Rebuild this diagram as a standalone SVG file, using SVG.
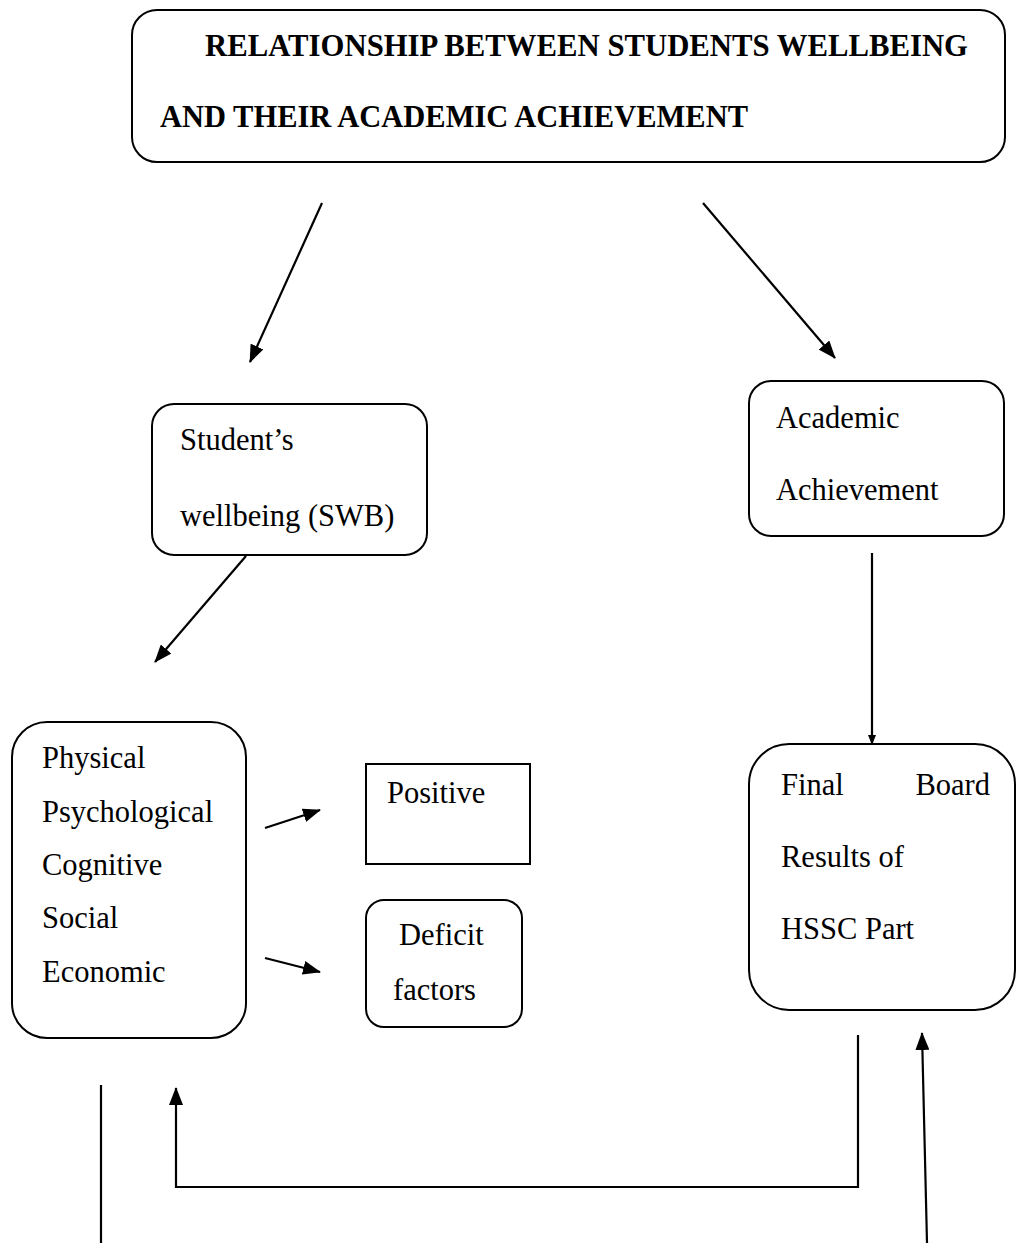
<svg xmlns="http://www.w3.org/2000/svg" width="1017" height="1243" viewBox="0 0 1017 1243">
<style>
.box{fill:none;stroke:#000;stroke-width:2}
.t{font-family:"Liberation Serif","Times New Roman",serif;font-size:30.5px;fill:#000}
.h{font-family:"Liberation Serif","Times New Roman",serif;font-size:32px;font-weight:bold;fill:#000}
.c{fill:none;stroke:#000;stroke-width:2.2}
</style>
<defs>
<marker id="a" markerWidth="10" markerHeight="8" refX="9" refY="4" orient="auto" markerUnits="userSpaceOnUse" viewBox="0 0 10 8">
<path d="M0,0 L10,4 L0,8 Z" fill="#000"/>
</marker>
<marker id="b" markerWidth="18" markerHeight="14" refX="17" refY="7" orient="auto" markerUnits="userSpaceOnUse" viewBox="0 0 18 14">
<path d="M0,0 L18,7 L0,14 Z" fill="#000"/>
</marker>
</defs>
<rect width="1017" height="1243" fill="#fff"/>
<g id="title">
<rect class="box" x="132" y="10" width="873" height="152" rx="25"/>
<text class="h" x="205" y="56" textLength="763" lengthAdjust="spacingAndGlyphs">RELATIONSHIP BETWEEN STUDENTS WELLBEING</text>
<text class="h" x="160" y="127" textLength="588" lengthAdjust="spacingAndGlyphs">AND THEIR ACADEMIC ACHIEVEMENT</text>
</g>
<g id="swb">
<rect class="box" x="152" y="404" width="275" height="151" rx="22"/>
<text class="t" x="180" y="450">Student’s</text>
<text class="t" x="180" y="526">wellbeing (SWB)</text>
</g>
<g id="academic">
<rect class="box" x="749" y="381" width="255" height="155" rx="22"/>
<text class="t" x="776" y="428">Academic</text>
<text class="t" x="776" y="500">Achievement</text>
</g>
<g id="factors">
<rect class="box" x="12" y="722" width="234" height="316" rx="35"/>
<text class="t" x="42" y="768">Physical</text>
<text class="t" x="42" y="822">Psychological</text>
<text class="t" x="42" y="875">Cognitive</text>
<text class="t" x="42" y="928">Social</text>
<text class="t" x="42" y="982">Economic</text>
</g>
<g id="positive">
<rect class="box" x="366" y="764" width="164" height="100"/>
<text class="t" x="387" y="803">Positive</text>
</g>
<g id="deficit">
<rect class="box" x="366" y="900" width="156" height="127" rx="18"/>
<text class="t" x="399" y="945">Deficit</text>
<text class="t" x="393" y="1000">factors</text>
</g>
<g id="final">
<rect class="box" x="749" y="744" width="266" height="266" rx="40"/>
<text class="t" x="781" y="795">Final</text>
<text class="t" x="990" y="795" text-anchor="end">Board</text>
<text class="t" x="781" y="867">Results of</text>
<text class="t" x="781" y="939">HSSC Part</text>
</g>
<g id="connectors">
<line class="c" x1="322" y1="203" x2="250" y2="362" marker-end="url(#b)"/>
<line class="c" x1="703" y1="203" x2="835" y2="358" marker-end="url(#b)"/>
<line class="c" x1="246" y1="556" x2="155" y2="662" marker-end="url(#b)"/>
<line class="c" x1="872" y1="553" x2="872" y2="744" marker-end="url(#a)"/>
<line class="c" x1="265" y1="828" x2="320" y2="810" marker-end="url(#b)"/>
<line class="c" x1="265" y1="958" x2="320" y2="972" marker-end="url(#b)"/>
<polyline class="c" points="858,1035 858,1187 176,1187 176,1088" marker-end="url(#b)"/>
<line class="c" x1="101" y1="1085" x2="101" y2="1243"/>
<line class="c" x1="927" y1="1243" x2="922" y2="1033" marker-end="url(#b)"/>
</g>
</svg>
